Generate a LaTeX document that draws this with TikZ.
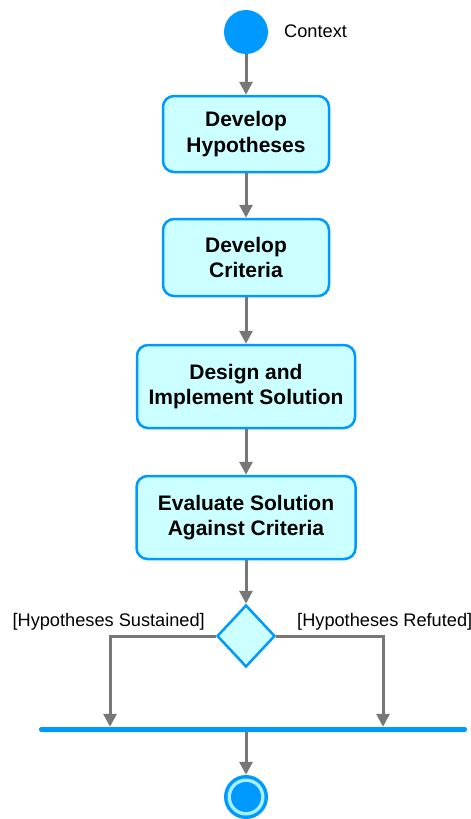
\documentclass[tikz,border=0pt]{standalone}
\usepackage{fontspec}
\setmainfont{Liberation Sans}
\usetikzlibrary{arrows.meta,shapes.geometric}
\definecolor{ublue}{HTML}{0099FF}
\definecolor{ufill}{HTML}{CCFFFF}
\definecolor{ugray}{HTML}{777777}
\definecolor{uring}{HTML}{A6F0FF}
\begin{document}
\begin{tikzpicture}[x=1pt,y=-1pt,
  act/.style={draw=ublue,fill=ufill,line width=2.5pt,rounded corners=11pt,
    inner sep=0pt,align=center,font=\fontsize{21}{25.5}\selectfont\bfseries},
  arr/.style={draw=ugray,line width=3pt,-{Triangle[length=13pt,width=13pt]}},
  lbl/.style={font=\fontsize{18.2}{21}\selectfont,inner sep=0pt}]
\path[use as bounding box] (0,0) rectangle (471,819);
\node[circle,fill=ublue,minimum size=44pt,inner sep=0pt] (start) at (246,32) {};
\node[lbl,anchor=west] (ctx) at (284,31) {Context};
\node[act,minimum width=166pt,minimum height=76pt] (b1) at (246,134) {Develop\\Hypotheses};
\node[act,minimum width=166pt,minimum height=77pt] (b2) at (246,257.5) {Develop\\Criteria};
\node[act,minimum width=218pt,minimum height=83pt] (b3) at (246,386.5) {Design and\\Implement Solution};
\node[act,minimum width=219pt,minimum height=83pt] (b4) at (246,517.5) {Evaluate Solution\\Against Criteria};
\node[diamond,draw=ublue,fill=ufill,line width=2.5pt,inner sep=0pt,minimum width=58pt,minimum height=62pt] (dia) at (246,636) {};
\node[lbl,anchor=east] (ls) at (205,622) {[Hypotheses Sustained]};
\node[lbl,anchor=west] (lr) at (297,622) {[Hypotheses Refuted]};
\node[fill=ublue,rounded corners=2.25pt,minimum width=428pt,minimum height=5pt,inner sep=0pt] (bar) at (253,729.5) {};
\node[circle,fill=ublue,minimum size=44pt,inner sep=0pt] (end) at (246,797) {};
\fill[uring] (end.center) circle (18.5);
\fill[ublue] (end.center) circle (15);
\draw[arr] (start) -- (b1);
\draw[arr] (b1) -- (b2);
\draw[arr] (b2) -- (b3);
\draw[arr] (b3) -- (b4);
\draw[arr] (b4) -- (dia);
\draw[arr] (dia.west) -| ([xshift=-143pt]bar.north);
\draw[arr] (dia.east) -| ([xshift=130pt]bar.north);
\draw[arr] ([xshift=-7pt]bar.south) -- (end);
\end{tikzpicture}
\end{document}
